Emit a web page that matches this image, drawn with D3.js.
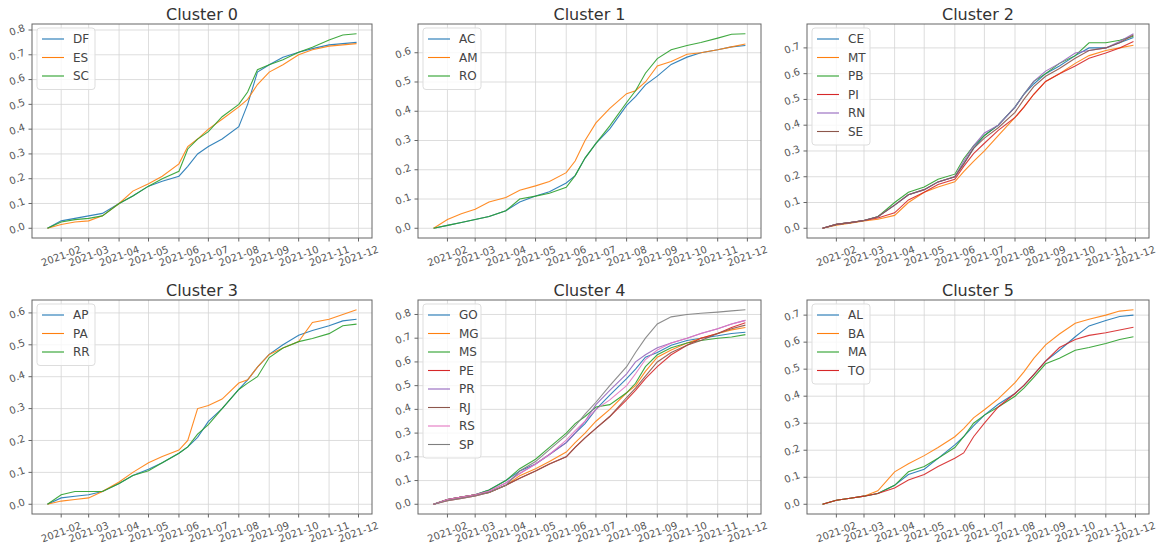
<!DOCTYPE html>
<html><head><meta charset="utf-8">
<script src="https://cdn.jsdelivr.net/npm/d3@7"></script>
<style>body{margin:0;background:#fff;}svg{display:block;font-family:"DejaVu Sans",sans-serif;}</style>
</head><body><svg id="chart" width="1162" height="552"></svg>
<script>
const dates = ["2021-01-18","2021-02-01","2021-02-15","2021-03-01","2021-03-15","2021-04-01","2021-04-15","2021-05-01","2021-05-15","2021-06-01","2021-06-10","2021-06-20","2021-07-01","2021-07-15","2021-08-01","2021-08-10","2021-08-20","2021-09-01","2021-09-15","2021-10-01","2021-10-15","2021-11-01","2021-11-15","2021-11-29"];
const xTickLabels = ["2021-02","2021-03","2021-04","2021-05","2021-06","2021-07","2021-08","2021-09","2021-10","2021-11","2021-12"];
const clusterTitles = ["Cluster 0","Cluster 1","Cluster 2","Cluster 3","Cluster 4","Cluster 5"];

const cluster0 = {
  DF: [0,.03,.04,.05,.06,.10,.13,.17,.19,.21,.25,.30,.33,.36,.41,.50,.63,.66,.69,.71,.725,.74,.745,.75],
  ES: [0,.015,.025,.03,.05,.10,.15,.18,.21,.26,.33,.36,.40,.44,.49,.52,.58,.63,.66,.70,.72,.735,.74,.745],
  SC: [0,.025,.035,.04,.05,.10,.13,.17,.20,.23,.32,.36,.39,.45,.50,.55,.64,.66,.68,.71,.73,.76,.78,.785]
};
const cluster1 = {
  AC: [0,.01,.02,.03,.04,.06,.09,.11,.125,.155,.18,.24,.29,.34,.42,.45,.49,.52,.56,.585,.60,.61,.62,.625],
  AM: [0,.03,.05,.065,.09,.105,.13,.145,.16,.19,.23,.30,.36,.41,.46,.47,.50,.555,.57,.595,.60,.61,.62,.63],
  RO: [0,.01,.02,.03,.04,.06,.10,.11,.12,.14,.18,.24,.29,.35,.43,.47,.53,.58,.61,.625,.635,.65,.663,.665]
};
const cluster2 = {
  CE: [0,.015,.022,.03,.045,.09,.13,.15,.18,.20,.25,.31,.36,.40,.47,.52,.56,.60,.63,.67,.70,.70,.72,.74],
  MT: [0,.012,.02,.028,.035,.05,.10,.14,.16,.18,.22,.26,.30,.36,.43,.47,.52,.57,.60,.64,.67,.69,.70,.71],
  PB: [0,.015,.022,.03,.045,.10,.14,.16,.19,.21,.27,.32,.36,.40,.47,.52,.57,.60,.64,.67,.72,.72,.73,.745],
  PI: [0,.015,.022,.03,.04,.06,.11,.14,.17,.19,.24,.29,.33,.38,.43,.47,.52,.57,.60,.63,.66,.68,.70,.725],
  RN: [0,.015,.022,.03,.045,.09,.13,.15,.18,.20,.26,.32,.37,.40,.47,.52,.57,.61,.64,.68,.69,.70,.725,.755],
  SE: [0,.015,.022,.03,.045,.09,.13,.15,.18,.20,.25,.31,.35,.39,.45,.50,.55,.59,.62,.66,.69,.70,.72,.75]
};
const cluster3 = {
  AP: [0,.02,.025,.03,.04,.065,.09,.11,.13,.16,.18,.21,.26,.30,.36,.39,.43,.47,.50,.53,.545,.56,.575,.58],
  PA: [0,.01,.015,.02,.04,.07,.10,.13,.15,.17,.20,.30,.31,.33,.38,.39,.43,.47,.49,.51,.57,.58,.595,.61],
  RR: [0,.03,.04,.04,.04,.065,.09,.105,.13,.16,.18,.22,.25,.30,.36,.38,.40,.46,.49,.51,.52,.535,.56,.565]
};
const cluster4 = {
  GO: [0,.02,.03,.04,.06,.10,.14,.17,.21,.26,.30,.34,.40,.46,.53,.57,.62,.64,.67,.69,.70,.71,.72,.725],
  MG: [0,.02,.03,.04,.05,.08,.12,.15,.18,.22,.26,.30,.35,.40,.47,.50,.56,.62,.65,.68,.70,.72,.735,.745],
  MS: [0,.02,.03,.04,.06,.10,.15,.19,.24,.30,.34,.37,.41,.42,.47,.51,.58,.63,.66,.68,.69,.70,.705,.715],
  PE: [0,.015,.025,.035,.05,.08,.11,.14,.17,.20,.24,.28,.32,.37,.44,.48,.53,.58,.63,.67,.70,.72,.745,.765],
  PR: [0,.02,.03,.04,.055,.09,.13,.17,.21,.26,.30,.35,.42,.48,.55,.60,.63,.66,.68,.70,.72,.74,.76,.775],
  RJ: [0,.02,.03,.04,.05,.08,.11,.14,.17,.20,.24,.28,.32,.37,.45,.49,.54,.60,.64,.67,.69,.72,.74,.755],
  RS: [0,.02,.03,.04,.055,.09,.13,.17,.21,.27,.31,.35,.40,.44,.50,.55,.61,.65,.68,.70,.72,.74,.76,.775],
  SP: [0,.015,.025,.035,.05,.08,.14,.18,.23,.29,.33,.38,.43,.50,.58,.64,.70,.76,.79,.80,.805,.81,.815,.82]
};
const cluster5 = {
  AL: [0,.015,.022,.03,.04,.07,.11,.13,.17,.22,.25,.29,.33,.37,.41,.44,.48,.53,.57,.62,.66,.68,.695,.70],
  BA: [0,.015,.022,.03,.05,.12,.15,.18,.21,.25,.28,.32,.35,.39,.45,.49,.54,.59,.63,.67,.685,.70,.715,.72],
  MA: [0,.015,.022,.03,.04,.07,.12,.14,.17,.21,.25,.30,.33,.36,.40,.43,.47,.52,.54,.57,.58,.595,.61,.62],
  TO: [0,.015,.022,.03,.04,.06,.09,.11,.14,.17,.19,.25,.30,.36,.41,.44,.48,.53,.58,.61,.625,.635,.645,.655]
};
const clusters = [cluster0, cluster1, cluster2, cluster3, cluster4, cluster5];
const colors = ["#1f77b4","#ff7f0e","#2ca02c","#d62728","#9467bd","#8c564b","#e377c2","#7f7f7f"];

const svg = d3.select("#chart");
const parse = d3.timeParse("%Y-%m-%d");
const parseM = d3.timeParse("%Y-%m");
const xs = dates.map(parse);
const cols = [[32,372],[418,761],[807,1149]];
const rows = [[24,238],[300,514]];

clusters.forEach((cl, i) => {
  const [x0, x1] = cols[i % 3];
  const [y0, y1] = rows[Math.floor(i / 3)];
  const names = Object.keys(cl);
  const maxV = d3.max(names, n => d3.max(cl[n]));
  const t0 = xs[0].getTime(), t1 = xs[xs.length - 1].getTime();
  const pad = (t1 - t0) * 0.05;
  const x = d3.scaleTime().domain([new Date(t0 - pad), new Date(t1 + pad)]).range([x0, x1]);
  const y = d3.scaleLinear().domain([-maxV * 0.05, maxV * 1.05]).range([y1, y0]);
  const g = svg.append("g");
  const yTicks = d3.range(0, maxV * 1.05 + 1e-9, 0.1);
  const xTicks = xTickLabels.map(parseM);

  g.selectAll(".gx").data(xTicks).join("line")
    .attr("x1", d => x(d)).attr("x2", d => x(d)).attr("y1", y0).attr("y2", y1)
    .attr("stroke", "#d4d4d4").attr("stroke-width", 0.8);
  g.selectAll(".gy").data(yTicks).join("line")
    .attr("y1", d => y(d)).attr("y2", d => y(d)).attr("x1", x0).attr("x2", x1)
    .attr("stroke", "#d4d4d4").attr("stroke-width", 0.8);

  const xa = g.append("g");
  xTicks.forEach(d => {
    xa.append("line").attr("x1", x(d)).attr("x2", x(d)).attr("y1", y1).attr("y2", y1 + 3.5).attr("stroke", "#666");
    xa.append("text").attr("transform", `translate(${x(d)},${y1 + 18}) rotate(-20)`)
      .attr("text-anchor", "middle").attr("dominant-baseline", "central")
      .attr("font-size", 10).attr("fill", "#555").text(d3.timeFormat("%Y-%m")(d));
  });
  yTicks.forEach(d => {
    g.append("line").attr("x1", x0 - 3.5).attr("x2", x0).attr("y1", y(d)).attr("y2", y(d)).attr("stroke", "#666");
    g.append("text").attr("transform", `translate(${x0 - 15},${y(d)}) rotate(-20)`)
      .attr("text-anchor", "middle").attr("dominant-baseline", "central")
      .attr("font-size", 10).attr("fill", "#555").text(d3.format(".1f")(d));
  });

  const line = d3.line().x((d, k) => x(xs[k])).y(d => y(d));
  names.forEach((n, k) => {
    g.append("path").datum(cl[n]).attr("d", line).attr("fill", "none")
      .attr("stroke", colors[k]).attr("stroke-width", 1.1).attr("stroke-opacity", 0.9);
  });

  g.append("rect").attr("x", x0).attr("y", y0).attr("width", x1 - x0).attr("height", y1 - y0)
    .attr("fill", "none").attr("stroke", "#666").attr("stroke-width", 1);

  g.append("text").attr("x", (x0 + x1) / 2).attr("y", y0 - 4).attr("text-anchor", "middle")
    .attr("font-size", 16).attr("fill", "#333").text(clusterTitles[i]);

  const rowH = 18.5;
  const lg = g.append("g");
  lg.append("rect").attr("x", x0 + 5).attr("y", y0 + 4).attr("width", 58)
    .attr("height", names.length * rowH + 6).attr("rx", 3)
    .attr("fill", "#fff").attr("fill-opacity", 0.8).attr("stroke", "#ddd");
  names.forEach((n, k) => {
    const cy = y0 + 15 + k * rowH;
    lg.append("line").attr("x1", x0 + 10).attr("x2", x0 + 32).attr("y1", cy).attr("y2", cy)
      .attr("stroke", colors[k]).attr("stroke-width", 1.1);
    lg.append("text").attr("x", x0 + 41).attr("y", cy).attr("dominant-baseline", "central")
      .attr("font-size", 12).attr("fill", "#444").text(n);
  });
});
</script></body></html>
